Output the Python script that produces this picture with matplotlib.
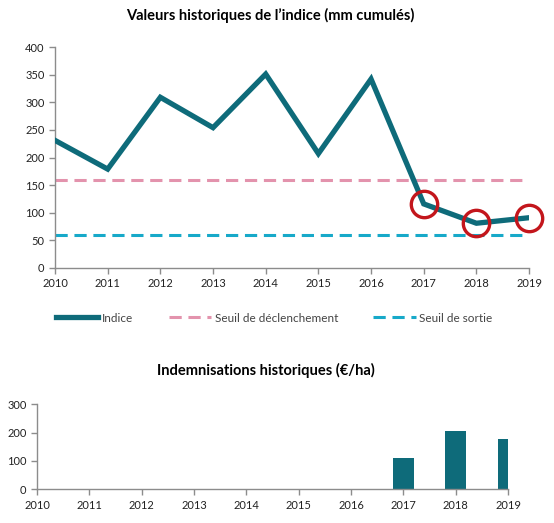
import numpy as np
import matplotlib.pyplot as plt

years = [2010, 2011, 2012, 2013, 2014, 2015, 2016, 2017, 2018, 2019]
indice = [231, 179, 309, 254, 351, 207, 342, 116, 81, 91]
seuil_declenchement = 160
seuil_sortie = 60
circled_years = [2017, 2018, 2019]
indemn_years = [2017, 2018, 2019]
indemn = [112, 205, 178]

TEAL = '#0e6b7a'
PINK = '#e393ad'
CYAN = '#17a9c9'
RED = '#c3161c'
GREY = '#8c8c8c'

plt.rcParams['font.family'] = ['Lato', 'DejaVu Sans']
plt.rcParams['font.size'] = 8


def style_axes(ax):
    for side in ['top', 'right']:
        ax.spines[side].set_visible(False)
    for side in ['left', 'bottom']:
        ax.spines[side].set_color(GREY)
        ax.spines[side].set_linewidth(1)
    ax.tick_params(colors=GREY, labelcolor='#222222', length=4, width=1,
                   labelsize=8)


def top_chart(fig):
    ax = fig.add_axes([0.0993, 0.4876, 0.8557, 0.4225])
    ax.plot(years, [seuil_declenchement] * len(years), color=PINK, lw=2.2,
            dashes=(4, 2.2), label='Seuil de déclenchement')
    ax.plot(years, [seuil_sortie] * len(years), color=CYAN, lw=2.2,
            dashes=(4, 2.2), label='Seuil de sortie')
    ax.plot(years, indice, color=TEAL, lw=3.8, solid_joinstyle='miter',
            label='Indice', zorder=3)
    circ = [indice[years.index(y)] for y in circled_years]
    ax.plot(circled_years, circ, ls='none', marker='o', ms=19,
            mfc='none', mec=RED, mew=2.4, zorder=4, clip_on=False)
    ax.set_xlim(2010, 2019)
    ax.set_ylim(0, 400)
    ax.set_xticks(years)
    ax.set_yticks(np.arange(0, 401, 50))
    style_axes(ax)
    handles, labels = ax.get_legend_handles_labels()
    order = [2, 0, 1]
    fig.legend([handles[i] for i in order], [labels[i] for i in order],
               loc='center', bbox_to_anchor=(0.495, 1 - 318 / 523), ncol=3,
               frameon=False, fontsize=8.5, handlelength=3.6,
               handletextpad=0.3, columnspacing=3.0, labelcolor='#444444')
    fig.text(0.487, 1 - 15 / 523, 'Valeurs historiques de l\u2019indice (mm cumulés)',
             ha='center', va='center', fontsize=10.5, fontweight='bold')


def bottom_chart(fig):
    ax = fig.add_axes([0.0668, 0.0644, 0.8502, 0.1626])
    ax.bar(indemn_years, indemn, width=0.4, color=TEAL)
    ax.set_xlim(2010, 2019)
    ax.set_ylim(0, 300)
    ax.set_xticks(years)
    ax.set_yticks([0, 100, 200, 300])
    style_axes(ax)
    fig.text(0.48, 1 - 370 / 523, 'Indemnisations historiques (€/ha)',
             ha='center', va='center', fontsize=10.5, fontweight='bold')


def main():
    fig = plt.figure(figsize=(5.54, 5.23), dpi=100)
    top_chart(fig)
    bottom_chart(fig)
    fig.savefig('out.png', dpi=100, facecolor='white')


if __name__ == "__main__":
    main()
